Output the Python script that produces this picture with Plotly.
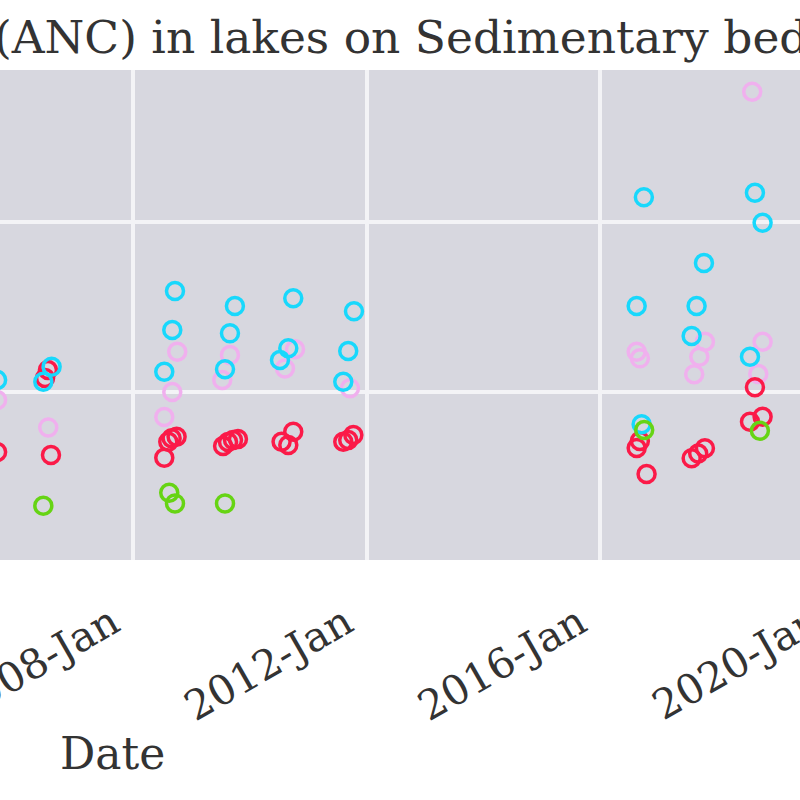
import plotly.graph_objects as go

# ---------------- data ----------------
TITLE = "Acid Neutralizing Capacity (ANC) in lakes on Sedimentary bedrock"
X_LABEL = "Date"
TICK_DATES = ["2008-01-01", "2012-01-01", "2016-01-01", "2020-01-01"]
TICK_LABELS = ["2008-Jan", "2012-Jan", "2016-Jan", "2020-Jan"]

red_dates = ["2005-09-02", "2006-06-29", "2006-07-17", "2006-08-05",
             "2008-09-29", "2008-08-29", "2008-08-08", "2008-07-14",
             "2009-07-17", "2009-08-17", "2009-09-17", "2009-10-18",
             "2010-07-18", "2010-08-29", "2010-09-29",
             "2011-08-08", "2011-09-08", "2011-10-10",
             "2016-08-17", "2016-09-06", "2016-10-18",
             "2017-07-27", "2017-09-06", "2017-10-18",
             "2018-08-27", "2018-07-27", "2018-10-14"]
red_vals = [64.7, 108.2, 112.9, 62.9,
            73.7, 72.8, 70.8, 61.4,
            68.2, 70.6, 71.8, 72.4,
            70.8, 68.8, 76.6,
            70.8, 71.8, 74.7,
            67.1, 71.2, 51.8,
            61.0, 63.9, 66.9,
            102.8, 82.5, 85.5]

cyan_dates = ["2005-09-02", "2006-06-18", "2006-08-09",
              "2008-09-19", "2008-09-02", "2008-07-14",
              "2009-09-29", "2009-08-29", "2009-07-29",
              "2010-09-29", "2010-08-29", "2010-07-08",
              "2011-10-14", "2011-09-08", "2011-08-08",
              "2016-10-01", "2016-08-17", "2016-09-17",
              "2017-10-12", "2017-08-27", "2017-07-27",
              "2018-08-27", "2018-10-14", "2018-07-27"]
cyan_vals = [107.1, 106.1, 114.9,
             159.4, 136.5, 111.9,
             150.6, 134.5, 113.4,
             155.1, 125.7, 118.8,
             147.5, 124.1, 106.1,
             214.5, 150.6, 81.0,
             175.9, 150.6, 132.9,
             217.2, 199.6, 120.8]

pink_dates = ["2005-09-02", "2006-07-19",
              "2008-10-03", "2008-09-02", "2008-07-14",
              "2009-08-29", "2009-07-12",
              "2010-10-10", "2010-08-08",
              "2011-09-19",
              "2016-08-17", "2016-09-06",
              "2017-10-18", "2017-09-13", "2017-08-12",
              "2018-08-10", "2018-10-14", "2018-09-17"]
pink_vals = [95.3, 79.2,
             123.7, 100.0, 85.3,
             121.8, 107.1,
             125.1, 113.9,
             102.2,
             123.7, 119.8,
             129.6, 120.8, 110.4,
             276.6, 129.6, 110.6]

green_dates = ["2006-06-18", "2008-08-14", "2008-09-19", "2009-07-29",
               "2016-10-03", "2018-09-27"]
green_vals = [33.1, 40.8, 34.5, 34.5, 77.6, 77.2]

SERIES = [
    ("Lake group 1", pink_dates, pink_vals, "#f0b0ee"),
    ("Lake group 2", red_dates, red_vals, "#fb1a48"),
    ("Lake group 3", cyan_dates, cyan_vals, "#18d8fc"),
    ("Lake group 4", green_dates, green_vals, "#66d414"),
]

X_RANGE = ["2005-09-20", "2019-06-05"]
Y_RANGE = [1.2, 289.4]
Y_GRID = [100, 200]

FONT = "DejaVu Serif"
TXT = "#333333"

fig = go.Figure()
for name, d, v, c in SERIES:
    fig.add_trace(go.Scatter(
        x=d, y=v, mode="markers", name=name,
        marker=dict(symbol="circle-open", size=17, color=c,
                    line=dict(width=3.5, color=c)),
        showlegend=False,
    ))

W, H = 800, 800
ML, MR, MT, MB = 0, 0, 70, 240
PH = H - MT - MB


def px_x(px):
    return (px - ML) / (W - ML - MR)


def px_y(py):
    return (H - MB - py) / PH


fig.update_layout(
    width=W, height=H,
    margin=dict(l=ML, r=MR, t=MT, b=MB, pad=0),
    paper_bgcolor="white",
    plot_bgcolor="#d7d7df",
    font=dict(family=FONT, color=TXT, size=41),
    xaxis=dict(
        type="date", range=X_RANGE,
        tickmode="array", tickvals=TICK_DATES, ticktext=TICK_LABELS,
        tickangle=-30, tickfont=dict(family=FONT, size=41, color=TXT),
        ticklabelstandoff=30, ticklabelshift=-21,
        ticklabeloverflow="allow",
        showgrid=True, gridcolor="#f3f3f6", gridwidth=4,
        zeroline=False, showline=False, ticks="", automargin=False,
    ),
    yaxis=dict(
        range=Y_RANGE, tickmode="array", tickvals=Y_GRID,
        showticklabels=False,
        showgrid=True, gridcolor="#f3f3f6", gridwidth=4,
        zeroline=False, showline=False, ticks="", automargin=False,
    ),
    annotations=[
        dict(text=TITLE, xref="paper", yref="paper",
             x=px_x(-646), y=px_y(37), xanchor="left", yanchor="middle",
             showarrow=False, font=dict(family=FONT, size=45.5, color=TXT)),
        dict(text=X_LABEL, xref="paper", yref="paper",
             x=px_x(113), y=px_y(754), xanchor="center", yanchor="middle",
             showarrow=False, font=dict(family=FONT, size=44, color=TXT)),
        dict(text=TICK_LABELS[3], xref="paper", yref="paper",
             x=px_x(736), y=px_y(663), xanchor="center", yanchor="middle",
             textangle=-30, showarrow=False,
             font=dict(family=FONT, size=41, color=TXT)),
    ],
)

fig.write_html(
    "out.html",
    config={"displayModeBar": False},
    post_script="document.body.style.margin='0px';"
                "document.body.style.overflow='hidden';",
)
